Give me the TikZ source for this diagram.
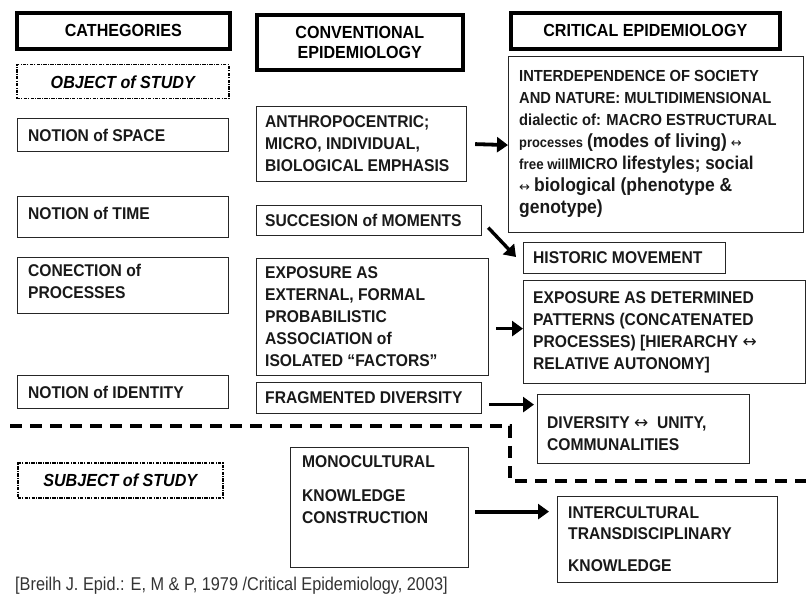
\documentclass[tikz,border=0pt]{standalone}
\usepackage{fontspec}
\setmainfont{Liberation Sans Bold}[ItalicFont={Liberation Sans Bold Italic},FakeStretch=0.92]
\newfontfamily\capfont{Liberation Sans}[FakeStretch=0.88]
\newfontfamily\arrfont{DejaVu Sans}
\newcommand\lrar{{\arrfont ↔}}
\usetikzlibrary{arrows.meta,calc}
\newcommand\fsz[1]{\fontsize{#1}{22}\selectfont}
\begin{document}
\begin{tikzpicture}[x=1pt,y=-1pt,
  font=\fontsize{17}{22}\selectfont,
  bx/.style={draw=black!85, line width=1.2pt, rectangle, inner sep=0pt, anchor=north west},
  hbox/.style={draw=black, line width=3.6pt, rectangle, inner sep=0pt, anchor=north west, align=center, font=\fontsize{17.5}{20}\selectfont},
  dbox/.style={draw=black, line width=1.5pt, rectangle, inner sep=0pt, anchor=north west,
     dash pattern=on 3.5pt off 1.2pt on 1pt off 1.2pt, font=\fontsize{17.5}{20}\selectfont\itshape},
  txt/.style={inner sep=0pt, align=left, anchor=west, text=black!90},
  arr/.style={line width=3.8pt, -{Triangle[length=11pt,width=15pt]}},
  sep/.style={line width=4pt, dash pattern=on 12pt off 8pt}
]
\fill[white] (0,0) rectangle (806,601);
\useasboundingbox (0,0) rectangle (806,601);

% headers
\node[hbox, minimum width=213pt, minimum height=36pt] (h-cat) at (15,11) {CATHEGORIES};
\node[hbox, minimum width=206pt, minimum height=55pt] (h-conv) at (255,13) {CONVENTIONAL\\EPIDEMIOLOGY};
\node[hbox, minimum width=269pt, minimum height=36pt] (h-crit) at (509,11) {CRITICAL EPIDEMIOLOGY};

% dashed category boxes
\node[dbox, minimum width=212pt, minimum height=34pt] (d-obj) at (16,64) {OBJECT of STUDY};
\node[dbox, minimum width=205pt, minimum height=35pt] (d-subj) at (17,462) {SUBJECT of STUDY};

% left column
\node[bx, minimum width=211pt, minimum height=33pt] (b-space) at (17,118) {};
\node[txt] (t-space) at ([xshift=11pt]b-space.west) {NOTION of SPACE};
\node[bx, minimum width=211pt, minimum height=41pt] (b-time) at (17,196) {};
\node[txt] (t-time) at ([shift={(11pt,4pt)}]b-time.west) {NOTION of TIME};
\node[bx, minimum width=211pt, minimum height=56pt] (b-conec) at (17,257) {};
\node[txt] (t-conec) at ([shift={(11pt,4pt)}]b-conec.west) {CONECTION of\\PROCESSES};
\node[bx, minimum width=211pt, minimum height=33pt] (b-ident) at (17,375) {};
\node[txt] (t-ident) at ([xshift=11pt]b-ident.west) {NOTION of IDENTITY};

% middle column
\node[bx, minimum width=210pt, minimum height=75pt] (b-anthro) at (256,106) {};
\node[txt] (t-anthro) at ([xshift=9pt]b-anthro.west) {ANTHROPOCENTRIC;\\MICRO, INDIVIDUAL,\\BIOLOGICAL EMPHASIS};
\node[bx, minimum width=225pt, minimum height=30pt] (b-succ) at (256,205) {};
\node[txt] (t-succ) at ([xshift=9pt]b-succ.west) {SUCCESION of MOMENTS};
\node[bx, minimum width=232pt, minimum height=117pt] (b-expo) at (256,258) {};
\node[txt] (t-expo) at ([xshift=9pt]b-expo.west) {EXPOSURE AS\\EXTERNAL, FORMAL\\PROBABILISTIC\\ASSOCIATION of\\ISOLATED “FACTORS”};
\node[bx, minimum width=225pt, minimum height=31pt] (b-frag) at (256,382) {};
\node[txt] (t-frag) at ([xshift=9pt]b-frag.west) {FRAGMENTED DIVERSITY};
\node[bx, minimum width=178pt, minimum height=120pt] (b-mono) at (290,447) {};
\node[txt, anchor=north west] (t-mono) at ([shift={(12pt,-8pt)}]b-mono.north west) {MONOCULTURAL\\[12pt]KNOWLEDGE\\CONSTRUCTION};

% right column
\node[bx, minimum width=295pt, minimum height=176pt] (b-inter) at (508,56) {};
\node[txt, font=\fontsize{16}{22}\selectfont] (t-inter) at ([shift={(11pt,1pt)}]b-inter.west)
  {INTERDEPENDENCE OF SOCIETY\\AND NATURE: MULTIDIMENSIONAL\\dialectic of: MACRO ESTRUCTURAL\\{\fsz{14}processes} {\fsz{19}(modes of living)} {\fsz{13}\lrar}\\{\fsz{14.5}free will}MICRO {\fsz{18.5}lifestyles; social}\\{\fsz{13}\lrar} {\fsz{19}biological (phenotype \&}\\{\fsz{19}genotype)}};
\node[bx, minimum width=202pt, minimum height=31pt] (b-hist) at (523,242) {};
\node[txt] (t-hist) at ([xshift=10pt]b-hist.west) {HISTORIC MOVEMENT};
\node[bx, minimum width=282pt, minimum height=103pt] (b-det) at (523,280) {};
\node[txt] (t-det) at ([xshift=10pt]b-det.west) {EXPOSURE AS DETERMINED\\PATTERNS (CONCATENATED\\PROCESSES) [HIERARCHY \lrar\\RELATIVE AUTONOMY]};
\node[bx, minimum width=212pt, minimum height=69pt] (b-div) at (537,394) {};
\node[txt] (t-div) at ([shift={(10pt,-5pt)}]b-div.west) {DIVERSITY \lrar~ UNITY,\\COMMUNALITIES};
\node[bx, minimum width=220pt, minimum height=86pt] (b-intc) at (557,496) {};
\node[txt, font=\fontsize{17}{21}\selectfont] (t-intc) at ([xshift=11pt]b-intc.west) {INTERCULTURAL\\TRANSDISCIPLINARY\\[11pt]KNOWLEDGE};

% arrows
\draw[arr] ([xshift=8pt]b-anthro.east) -- ([yshift=-0.5pt]b-inter.west);
\draw[arr, line width=3.4pt] ([shift={(6pt,-7pt)}]b-succ.east) -- ([shift={(-7pt,-15pt)}]b-hist.north west);
\draw[arr] ([shift={(7pt,-11.5pt)}]b-expo.east) -- ([shift={(0pt,3.5pt)}]b-det.west);
\draw[arr] ([shift={(7pt,-6.5pt)}]b-frag.east) -- ([shift={(-3pt,24.5pt)}]b-div.west);
\draw[arr] ([shift={(6pt,-4pt)}]b-mono.east) -- ([shift={(-8pt,28pt)}]b-intc.west);

% separator
\coordinate (s1) at (10,426);
\coordinate (s2) at (510,426);
\coordinate (s3) at (510,481);
\coordinate (s4) at (806,481);
\draw[sep] (s1) -- (s2) -- (s3) -- (s4);

% caption
\node[txt, font=\capfont\fontsize{18.5}{20}\selectfont, text=black!80] (cap) at (15,586) {[Breilh J. Epid.: E, M \& P, 1979 /Critical Epidemiology, 2003]};
\end{tikzpicture}
\end{document}
